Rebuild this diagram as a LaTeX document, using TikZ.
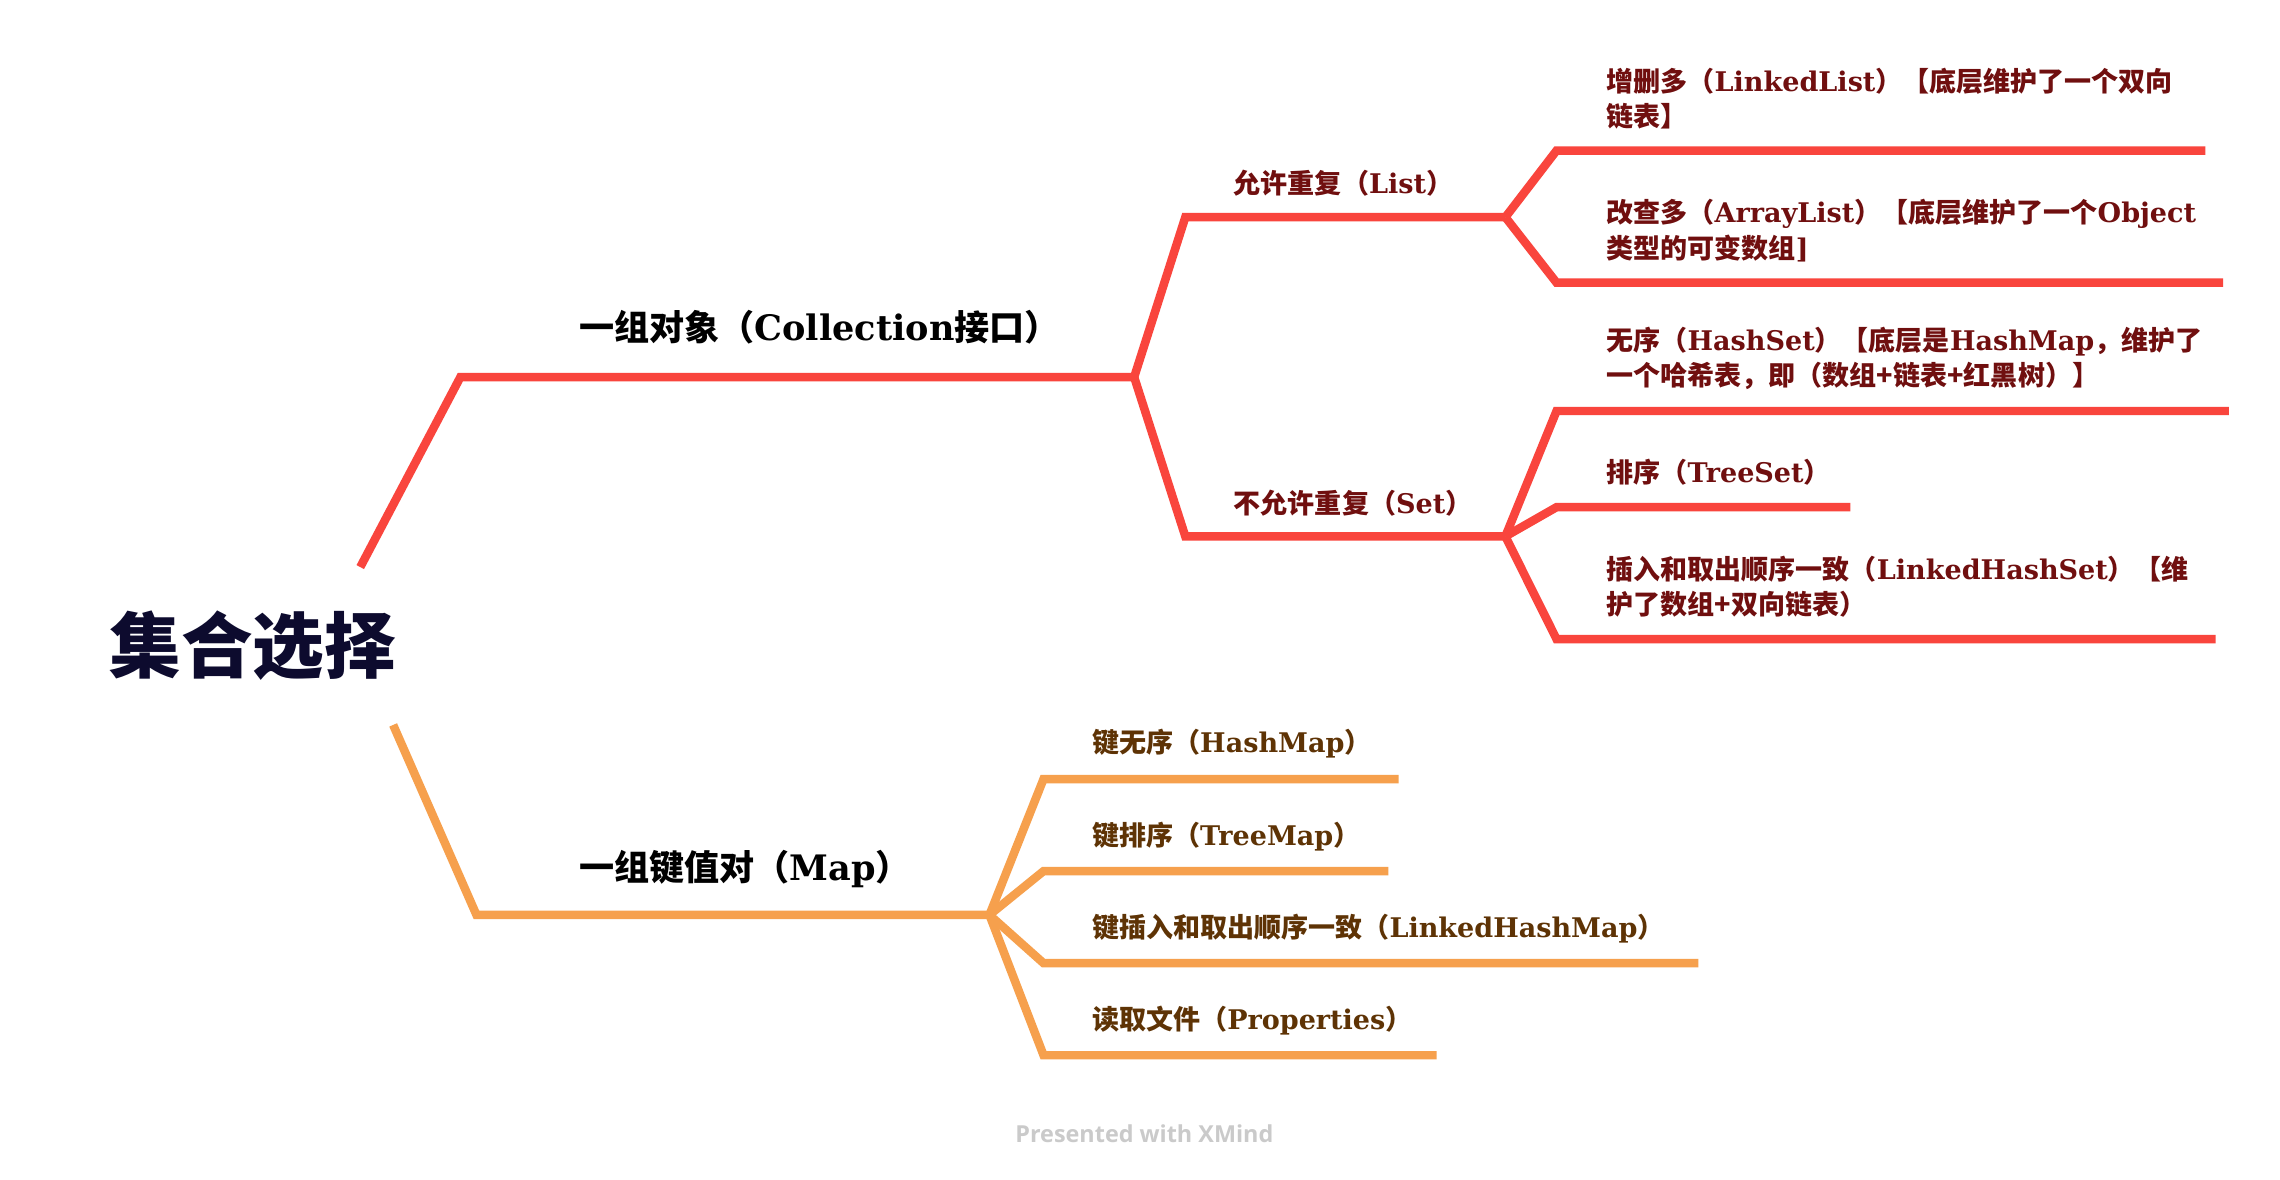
\documentclass[tikz,border=0pt]{standalone}
\usepackage{fontspec}
\setmainfont{Noto Sans CJK SC}
\newfontfamily\latinfont{DejaVu Serif}
\newfontfamily\markfont{Open Sans}
\newcommand\latn[1]{{\latinfont #1}}
\definecolor{brred}{HTML}{F9453D}
\definecolor{brorange}{HTML}{F6A04D}
\definecolor{txtred}{HTML}{700F0F}
\definecolor{txtbrown}{HTML}{5E3305}
\definecolor{rootnavy}{HTML}{0D0B2E}
\definecolor{footgray}{HTML}{CACACA}
\tikzset{
  branch/.style={line width=5.8pt, line join=miter, line cap=butt},
  redbr/.style={branch, draw=brred},
  orbr/.style={branch, draw=brorange},
  rootlabel/.style={font=\bfseries\fontsize{49}{56}\selectfont, text=rootnavy, inner sep=0},
  lvone/.style={font=\bfseries\fontsize{24}{30}\selectfont, text=black, anchor=west, inner sep=0},
  lvred/.style={font=\bfseries\fontsize{18.5}{24.4}\selectfont, text=txtred, anchor=west, inner sep=0, align=left},
  lvbrown/.style={font=\bfseries\fontsize{18.5}{24.4}\selectfont, text=txtbrown, anchor=west, inner sep=0, align=left},
  footer/.style={font=\markfont\bfseries\fontsize{16}{20}\selectfont, text=footgray, inner sep=0}
}
\begin{document}
\begin{tikzpicture}[x=1pt,y=-1pt]
\useasboundingbox (0,0) rectangle (1560,807);
\fill[white] (0,0) rectangle (1560,807);

% root
\node[rootlabel] (root) at (173,442) {集合选择};

% coordinates of the red tree
\coordinate (r0) at (246.5,388);
\coordinate (r1) at (315,258);
\coordinate (J1) at (776,258);
\coordinate (l2a) at (811,148.6);
\coordinate (JL) at (1030,148.6);
\coordinate (l2b) at (811,367);
\coordinate (JS) at (1030,367);
\coordinate (a1) at (1065,103);   \coordinate (a2) at (1509,103);
\coordinate (b1) at (1065,193.4); \coordinate (b2) at (1521,193.4);
\coordinate (c1) at (1065,281.2); \coordinate (c2) at (1525,281.2);
\coordinate (d1) at (1065,347);   \coordinate (d2) at (1266,347);
\coordinate (e1) at (1065,437.3); \coordinate (e2) at (1516,437.3);

\draw[redbr] (r0) -- (r1) -- (J1);
\draw[redbr] (J1) -- (l2a) -- (JL);
\draw[redbr] (J1) -- (l2b) -- (JS);
\draw[redbr] (JL) -- (a1) -- (a2);
\draw[redbr] (JL) -- (b1) -- (b2);
\draw[redbr] (JS) -- (c1) -- (c2);
\draw[redbr] (JS) -- (d1) -- (d2);
\draw[redbr] (JS) -- (e1) -- (e2);

% coordinates of the orange tree
\coordinate (o0) at (269,496);
\coordinate (o1) at (326,626);
\coordinate (JM) at (677,626);
\coordinate (m1a) at (714,533); \coordinate (m1b) at (957,533);
\coordinate (m2a) at (714,596); \coordinate (m2b) at (950,596);
\coordinate (m3a) at (714,659); \coordinate (m3b) at (1162,659);
\coordinate (m4a) at (714,722); \coordinate (m4b) at (983,722);

\draw[orbr] (o0) -- (o1) -- (JM);
\draw[orbr] (JM) -- (m1a) -- (m1b);
\draw[orbr] (JM) -- (m2a) -- (m2b);
\draw[orbr] (JM) -- (m3a) -- (m3b);
\draw[orbr] (JM) -- (m4a) -- (m4b);

% labels
\node[lvone] (coll) at (396,224) {一组对象（\latn{Collection}接口）};
\node[lvone] (map) at (396,594.3) {一组键值对（\latn{Map}）};

\node[lvred] (list) at (844,125.4) {允许重复（\latn{List}）};
\node[lvred] (set) at (844,344.3) {不允许重复（\latn{Set}）};

\node[lvred] (linked) at (1099,67.6) {增删多（\latn{LinkedList}）【底层维护了一个双向\\链表】};
\node[lvred] (array) at (1099,157.8) {改查多（\latn{ArrayList}）【底层维护了一个\latn{Object}\\类型的可变数组\latn{]}};
\node[lvred] (hashset) at (1099,245.3) {无序（\latn{HashSet}）【底层是\latn{HashMap}，维护了\\一个哈希表，即（数组+链表+红黑树）】};
\node[lvred] (treeset) at (1099,323.2) {排序（\latn{TreeSet}）};
\node[lvred] (lhset) at (1099,401.5) {插入和取出顺序一致（\latn{LinkedHashSet}）【维\\护了数组+双向链表）};

\node[lvbrown] (hashmap) at (747,509) {键无序（\latn{HashMap}）};
\node[lvbrown] (treemap) at (747,572.4) {键排序（\latn{TreeMap}）};
\node[lvbrown] (lhmap) at (747,635.5) {键插入和取出顺序一致（\latn{LinkedHashMap}）};
\node[lvbrown] (props) at (747,698.6) {读取文件（\latn{Properties}）};

\node[footer] (foot) at (783,776) {Presented with XMind};
\end{tikzpicture}
\end{document}
